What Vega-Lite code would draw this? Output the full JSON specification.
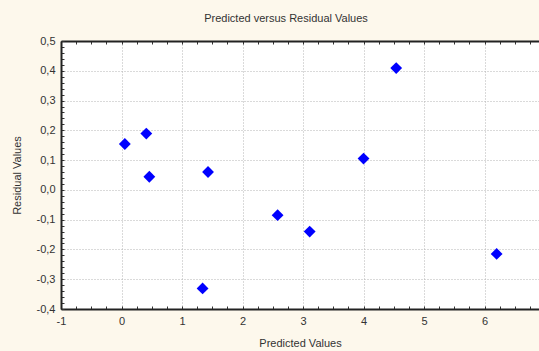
{
  "$schema": "https://vega.github.io/schema/vega-lite/v6.json",
  "width": 478,
  "height": 268,
  "autosize": {"type": "none"},
  "padding": {"left": 61, "top": 41, "right": 0, "bottom": 42},
  "background": "#FDF8EC",
  "view": {"fill": "white", "stroke": null},
  "title": {
    "text": "Predicted versus Residual Values",
    "font": "Liberation Sans",
    "fontSize": 11,
    "fontWeight": "normal",
    "color": "#333333",
    "anchor": "middle",
    "dx": -14,
    "offset": 11
  },
  "config": {
    "axis": {
      "labelFont": "Liberation Sans",
      "titleFont": "Liberation Sans",
      "labelFontSize": 11,
      "titleFontSize": 11,
      "titleFontWeight": "normal",
      "labelColor": "#333333",
      "titleColor": "#333333"
    }
  },
  "data": {
    "values": [
      {"predicted": 0.055, "residual": 0.154},
      {"predicted": 0.41, "residual": 0.189},
      {"predicted": 0.46, "residual": 0.044},
      {"predicted": 1.43, "residual": 0.06},
      {"predicted": 1.34, "residual": -0.331},
      {"predicted": 2.58, "residual": -0.085},
      {"predicted": 3.11, "residual": -0.14},
      {"predicted": 4.0, "residual": 0.105},
      {"predicted": 4.54, "residual": 0.409},
      {"predicted": 6.2, "residual": -0.215}
    ]
  },
  "resolve": {"axis": {"x": "independent", "y": "independent"}},
  "layer": [
    {
      "mark": {"type": "point", "shape": "diamond", "filled": true, "color": "#0000FF", "opacity": 1, "size": 140},
      "encoding": {
        "x": {
          "field": "predicted",
          "type": "quantitative",
          "scale": {"domain": [-1, 6.9], "nice": false, "zero": false},
          "axis": {
            "title": "Predicted Values",
            "orient": "bottom",
            "values": [-1, -0.75, -0.5, -0.25, 0, 0.25, 0.5, 0.75, 1, 1.25, 1.5, 1.75, 2, 2.25, 2.5, 2.75, 3, 3.25, 3.5, 3.75, 4, 4.25, 4.5, 4.75, 5, 5.25, 5.5, 5.75, 6, 6.25, 6.5, 6.75],
            "labelExpr": "datum.value % 1 === 0 ? replace(format(datum.value, 'd'), '\u2212', '-') : ''",
            "labelPadding": 9,
            "labelFlush": false,
            "tickSize": -3,
            "tickColor": "#333333",
            "domainColor": "#222222",
            "domainWidth": 2,
            "grid": true,
            "gridColor": "#B4B4B4",
            "gridDash": [1, 2],
            "gridOpacity": {"condition": {"test": "datum.value % 1 === 0", "value": 1}, "value": 0},
            "titlePadding": 11
          }
        },
        "y": {
          "field": "residual",
          "type": "quantitative",
          "scale": {"domain": [-0.4, 0.5], "nice": false, "zero": false},
          "axis": {
            "title": "Residual Values",
            "orient": "left",
            "values": [-0.4, -0.38, -0.36, -0.34, -0.32, -0.3, -0.28, -0.26, -0.24, -0.22, -0.2, -0.18, -0.16, -0.14, -0.12, -0.1, -0.08, -0.06, -0.04, -0.02, 0, 0.02, 0.04, 0.06, 0.08, 0.1, 0.12, 0.14, 0.16, 0.18, 0.2, 0.22, 0.24, 0.26, 0.28, 0.3, 0.32, 0.34, 0.36, 0.38, 0.4, 0.42, 0.44, 0.46, 0.48, 0.5],
            "labelExpr": "abs(datum.value * 10 - round(datum.value * 10)) < 0.001 ? replace(replace(format(datum.value, '.1f'), '.', ','), '\u2212', '-') : ''",
            "labelPadding": 9,
            "labelFlush": false,
            "tickSize": -3,
            "tickColor": "#333333",
            "domainColor": "#222222",
            "domainWidth": 2,
            "grid": true,
            "gridColor": "#B4B4B4",
            "gridDash": [1, 2],
            "gridOpacity": {"condition": {"test": "abs(datum.value * 10 - round(datum.value * 10)) < 0.001 && datum.value > -0.39 && datum.value < 0.49", "value": 1}, "value": 0},
            "titlePadding": 14
          }
        }
      }
    },
    {
      "mark": {"type": "point", "opacity": 0},
      "encoding": {
        "x": {
          "field": "predicted",
          "type": "quantitative",
          "scale": {"domain": [-1, 6.9], "nice": false, "zero": false},
          "axis": {
            "title": null,
            "orient": "top",
            "values": [-1, -0.75, -0.5, -0.25, 0, 0.25, 0.5, 0.75, 1, 1.25, 1.5, 1.75, 2, 2.25, 2.5, 2.75, 3, 3.25, 3.5, 3.75, 4, 4.25, 4.5, 4.75, 5, 5.25, 5.5, 5.75, 6, 6.25, 6.5, 6.75],
            "labels": false,
            "tickSize": -3,
            "tickColor": "#333333",
            "domainColor": "#222222",
            "domainWidth": 2,
            "grid": false
          }
        },
        "y": {
          "field": "residual",
          "type": "quantitative",
          "scale": {"domain": [-0.4, 0.5], "nice": false, "zero": false},
          "axis": null
        }
      }
    }
  ]
}
